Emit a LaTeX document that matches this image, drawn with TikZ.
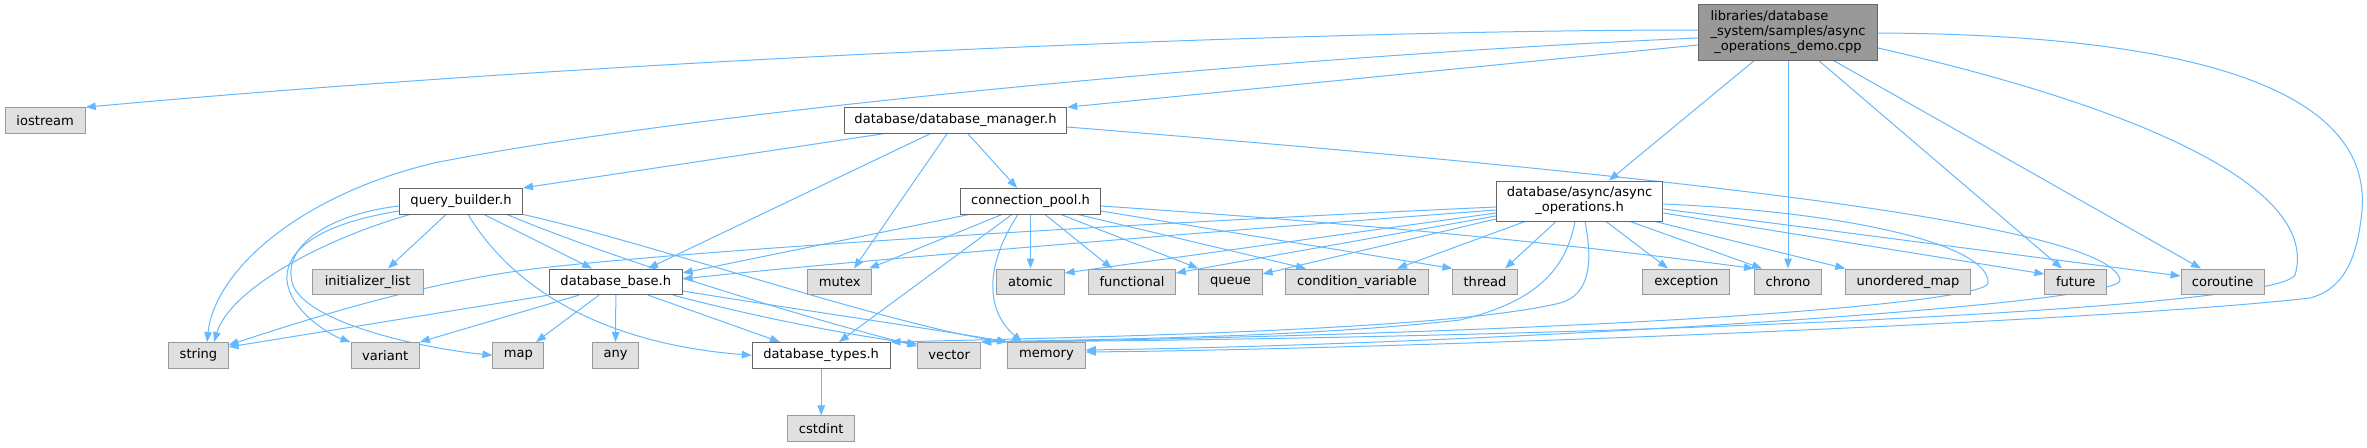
\documentclass[tikz,border=0pt]{standalone}
\usepackage{fontspec}
\setmainfont{DejaVu Sans}
\usetikzlibrary{arrows.meta}
\definecolor{edgeblue}{HTML}{63B8FF}
\definecolor{extfill}{HTML}{E0E0E0}
\definecolor{extdraw}{HTML}{999999}
\definecolor{mainfill}{HTML}{999999}
\definecolor{maindraw}{HTML}{666666}
\newcommand{\nfont}{\fontsize{9.8pt}{11.25pt}\selectfont}
\pgfdeclarelayer{bg}
\pgfsetlayers{bg,main}
\begin{document}
\begin{tikzpicture}[x=0.75pt,y=-0.75pt,
  box/.style={rectangle, inner sep=0pt, minimum height=19.2pt, line width=0.75pt, font=\nfont, text=black},
  extnode/.style={box, draw=extdraw, fill=extfill},
  incnode/.style={box, draw=maindraw, fill=white},
  mainnode/.style={box, draw=maindraw, fill=mainfill},
  dep/.style={draw=edgeblue, line width=0.75pt, -{Triangle[length=7.5pt,width=5.6pt]}},
]
\useasboundingbox (0,0) rectangle (2367,447);

% nodes
\node[mainnode, minimum width=134.25pt, minimum height=41.7pt] (main) at (1788,32.5)
  {\begin{tabular}{@{}l@{}}libraries/database\\\_system/samples/async\\\multicolumn{1}{@{}c@{}}{\_operations\_demo.cpp}\end{tabular}};
\node[extnode, minimum width=60pt] (iostream) at (45.2,120.5) {iostream};
\node[incnode, minimum width=166.8pt] (dbm) at (955.5,120.5) {database/database\_manager.h};
\node[incnode, minimum width=92.25pt] (qb) at (461,201.2) {query\_builder.h};
\node[incnode, minimum width=105pt] (cp) at (1030.5,201.2) {connection\_pool.h};
\node[incnode, minimum width=124.95pt, minimum height=30pt] (as) at (1579.6,201)
  {\begin{tabular}{@{}l@{}}database/async/async\\\multicolumn{1}{@{}c@{}}{\_operations.h}\end{tabular}};
\node[extnode, minimum width=83.25pt] (initl) at (367.6,281.8) {initializer\_list};
\node[incnode, minimum width=99.45pt] (dbb) at (615.8,281.8) {database\_base.h};
\node[extnode, minimum width=48.15pt] (mutex) at (839.7,281.8) {mutex};
\node[extnode, minimum width=50.55pt] (atomic) at (1030.5,281.8) {atomic};
\node[extnode, minimum width=65pt] (functional) at (1132,281.8) {functional};
\node[extnode, minimum width=47.4pt] (queue) at (1230.5,281.8) {queue};
\node[extnode, minimum width=107.25pt] (condvar) at (1357,281.8) {condition\_variable};
\node[extnode, minimum width=48.15pt] (thread) at (1485,281.8) {thread};
\node[extnode, minimum width=65.25pt] (exception) at (1686.4,281.8) {exception};
\node[extnode, minimum width=50.25pt] (chrono) at (1788,281.8) {chrono};
\node[extnode, minimum width=93.4pt] (umap) at (1908,281.8) {unordered\_map};
\node[extnode, minimum width=46.35pt] (future) at (2075.7,281.8) {future};
\node[extnode, minimum width=62.25pt] (coroutine) at (2222.6,281.8) {coroutine};
\node[extnode, minimum width=44.4pt] (string) at (198.5,355.3) {string};
\node[extnode, minimum width=51.3pt] (variant) at (385.2,355.3) {variant};
\node[extnode, minimum width=38.25pt] (map) at (518.4,355.3) {map};
\node[extnode, minimum width=34.95pt] (any) at (615.6,355.3) {any};
\node[incnode, minimum width=103.3pt] (dbtypes) at (821.2,355.3) {database\_types.h};
\node[extnode, minimum width=47.25pt] (vector) at (949.2,355.3) {vector};
\node[extnode, minimum width=58.2pt] (memory) at (1046.5,355.3) {memory};
\node[extnode, minimum width=50.25pt] (cstdint) at (821.2,428.7) {cstdint};

\begin{pgfonlayer}{bg}
% main
\draw[dep] (main.west |- 0,30) .. controls (1300,30) and (600,60) .. (iostream.north east);
\draw[dep] (main.west |- 0,38) .. controls (1300,55) and (700,110) .. (434,163) .. controls (300,195) and (215,270) .. (string.north -| 207,0);
\draw[dep] (main.west |- 0,45) -- (dbm.north east);
\draw[dep] (main.south -| 1754,0) -- (as.north -| 1609,0);
\draw[dep] (main.south) -- (chrono.north);
\draw[dep] (main.south -| 1819,0) -- (future.north -| 2062,0);
\draw[dep] (main.south -| 1834,0) -- (coroutine.north -| 2201,0);
\draw[dep] (main.east |- 0,48) .. controls (2150,110) and (2320,190) .. (2295,275) .. controls (2275,310) and (1600,338) .. (vector.north east);
\draw[dep] (main.east |- 0,33) .. controls (2250,35) and (2370,110) .. (2362,210) .. controls (2357,265) and (2340,290) .. (2310,298) .. controls (2100,322) and (1400,349) .. (memory.east |- 0,352);
% database_manager
\draw[dep] (dbm.south -| 883,0) -- (qb.north east);
\draw[dep] (dbm.south -| 930,0) -- (dbb.north -| 648,0);
\draw[dep] (dbm.south -| 947,0) -- (mutex.north -| 854,0);
\draw[dep] (dbm.south -| 968,0) -- (cp.north -| 1017,0);
\draw[dep] (dbm.east |- 0,127) .. controls (1600,170) and (2110,220) .. (2120,280) .. controls (2125,305) and (1500,344) .. (memory.east |- 0,350);
% query_builder
\draw[dep] (qb.south -| 410,0) .. controls (320,240) and (230,290) .. (string.north -| 214,0);
\draw[dep] (qb.west |- 0,211) .. controls (330,222) and (285,245) .. (287,280) .. controls (289,310) and (330,335) .. (variant.north west);
\draw[dep] (qb.west |- 0,206) .. controls (330,214) and (283,245) .. (292,282) .. controls (302,322) and (420,348) .. (map.west);
\draw[dep] (qb.south -| 446,0) -- (initl.north -| 388,0);
\draw[dep] (qb.south -| 468,0) .. controls (520,300) and (620,345) .. (dbtypes.west);
\draw[dep] (qb.south -| 484,0) -- (dbb.north -| 592,0);
\draw[dep] (qb.south -| 507,0) .. controls (620,262) and (820,322) .. (vector.west |- 0,346);
\draw[dep] (qb.south east) .. controls (640,240) and (900,328) .. (memory.north west);
% database_base
\draw[dep] (dbb.south west) -- (string.east |- 0,347);
\draw[dep] (dbb.south -| 579,0) -- (variant.north east);
\draw[dep] (dbb.south -| 599,0) -- (map.north -| 536,0);
\draw[dep] (dbb.south) -- (any.north);
\draw[dep] (dbb.south -| 648,0) -- (dbtypes.north -| 780,0);
\draw[dep] (dbb.south -| 673,0) .. controls (760,318) and (850,335) .. (vector.west |- 0,344);
\draw[dep] (dbb.east |- 0,291) .. controls (800,310) and (940,330) .. (memory.north west);
% connection_pool
\draw[dep] (cp.south -| 969,0) -- (dbb.east |- 0,273);
\draw[dep] (cp.south -| 1002,0) -- (mutex.north -| 869,0);
\draw[dep] (cp.south -| 1012,0) -- (dbtypes.north -| 839,0);
\draw[dep] (cp.south -| 1018,0) .. controls (985,265) and (985,310) .. (memory.north -| 1022,0);
\draw[dep] (cp.south) -- (atomic.north);
\draw[dep] (cp.south -| 1045,0) -- (functional.north -| 1112,0);
\draw[dep] (cp.south -| 1061,0) -- (queue.north west);
\draw[dep] (cp.south -| 1078,0) -- (condvar.north -| 1306,0);
\draw[dep] (cp.east |- 0,211) -- (thread.north west);
\draw[dep] (cp.east |- 0,206) .. controls (1400,226) and (1600,248) .. (chrono.north west);
% async_operations
\draw[dep] (as.west |- 0,207) .. controls (1100,225) and (700,250) .. (541,268) .. controls (420,282) and (300,322) .. (string.east |- 0,345);
\draw[dep] (as.west |- 0,210) .. controls (1100,240) and (800,266) .. (dbb.east |- 0,279);
\draw[dep] (as.west |- 0,213) -- (atomic.east |- 0,273);
\draw[dep] (as.west |- 0,216) -- (functional.east |- 0,273);
\draw[dep] (as.west |- 0,219) -- (queue.east |- 0,274);
\draw[dep] (as.south -| 1525,0) -- (condvar.north -| 1397,0);
\draw[dep] (as.south -| 1556,0) -- (thread.north -| 1505,0);
\draw[dep] (as.south -| 1606,0) -- (exception.north -| 1668,0);
\draw[dep] (as.south -| 1630,0) -- (chrono.north -| 1762,0);
\draw[dep] (as.south -| 1655,0) -- (umap.north west);
\draw[dep] (as.east |- 0,213) -- (future.west |- 0,274);
\draw[dep] (as.east |- 0,209) -- (coroutine.west |- 0,276);
\draw[dep] (as.east |- 0,204) .. controls (1850,212) and (1990,245) .. (1988,283) .. controls (1988,300) and (1700,330) .. (memory.north west);
\draw[dep] (as.south -| 1575,0) .. controls (1567,262) and (1545,300) .. (1460,320) .. controls (1300,338) and (1100,339) .. (vector.north east);
\draw[dep] (as.south -| 1585,0) .. controls (1593,262) and (1590,295) .. (1560,303) .. controls (1450,330) and (1100,337) .. (dbtypes.north east);
% database_types
\draw[dep] (dbtypes.south) -- (cstdint.north);
\end{pgfonlayer}
\end{tikzpicture}
\end{document}
